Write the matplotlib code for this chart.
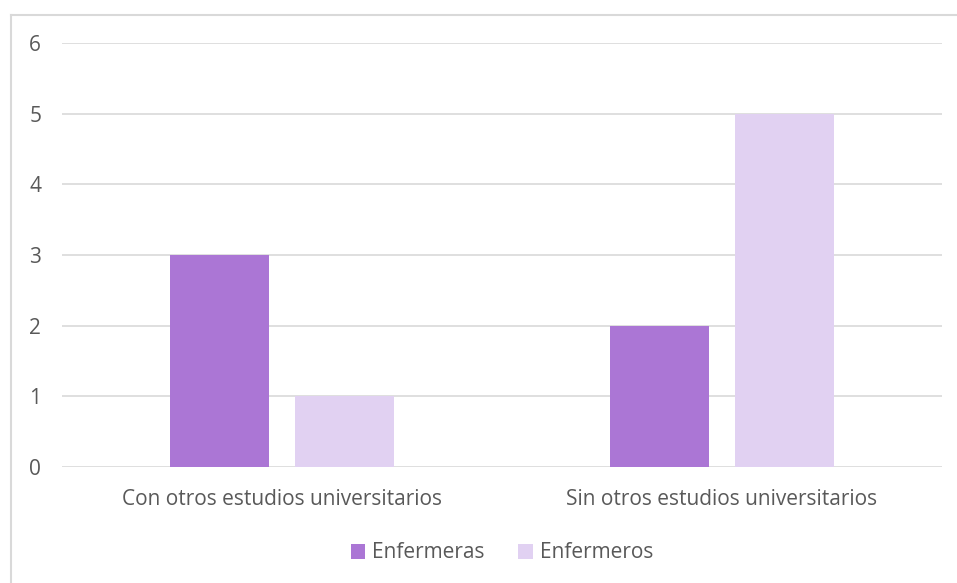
import matplotlib
matplotlib.use("Agg")
import matplotlib.pyplot as plt
from matplotlib.lines import Line2D
import numpy as np

categories = ["Con otros estudios universitarios", "Sin otros estudios universitarios"]
series_names = ["Enfermeras", "Enfermeros"]
enfermeras = [3, 2]
enfermeros = [1, 5]
yticks = [0, 1, 2, 3, 4, 5, 6]

colors = ["#AB76D5", "#E1D1F2"]
text_color = "#595959"
grid_color = "#D9D9D9"

plt.rcParams['font.family'] = ['Open Sans', 'DejaVu Sans']

fig = plt.figure(figsize=(9.57, 5.83), dpi=100)
ax = fig.add_axes([62/957, 1 - 467/583, (942-62)/957, (467-43)/583])

x = np.arange(len(categories))
w = 0.225
off = 0.1425
ax.bar(x - off, enfermeras, width=w, color=colors[0], label=series_names[0], zorder=3)
ax.bar(x + off, enfermeros, width=w, color=colors[1], label=series_names[1], zorder=3)

ax.set_xlim(-0.5, 1.5)
ax.set_ylim(0, 6)
ax.set_yticks(yticks)
ax.set_yticklabels([str(v) for v in yticks])
ax.set_xticks(x)
ax.set_xticklabels(categories)
ax.tick_params(axis='both', length=0, colors=text_color, labelsize=15)
ax.tick_params(axis='y', pad=15)
ax.tick_params(axis='x', pad=16)
for s in ax.spines.values():
    s.set_visible(False)
ax.grid(axis='y', color=grid_color, linewidth=1.2, zorder=0)
ax.set_axisbelow(True)

leg = fig.legend(loc='center', bbox_to_anchor=(502/957, 1 - 553/583), ncol=2, frameon=False,
                 fontsize=15, handlelength=0.7, handleheight=0.7, handletextpad=0.35,
                 columnspacing=1.6, labelcolor=text_color)

# outer chart border (top and left edges visible)
y_top = 1 - 15/583
x_left = 11/957
fig.lines.append(Line2D([x_left, 1.05], [y_top, y_top], transform=fig.transFigure,
                        color="#D9D9D9", linewidth=1.5))
fig.lines.append(Line2D([x_left, x_left], [-0.05, y_top], transform=fig.transFigure,
                        color="#D9D9D9", linewidth=1.5))

fig.savefig("out.png", dpi=100)
